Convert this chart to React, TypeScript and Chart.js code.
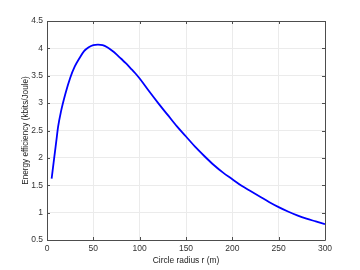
import React, { useEffect, useRef } from "react";
import { Chart, registerables } from "chart.js";

Chart.register(...registerables);

const radius = [5, 8, 10, 12, 15, 20, 25, 30, 35, 40, 45, 50, 55, 60, 65, 70, 75, 80, 85, 90, 95, 100, 110, 120, 130, 140, 150, 160, 170, 180, 190, 200, 210, 220, 230, 240, 250, 260, 270, 280, 290, 300];
const efficiency = [1.62, 2.03, 2.3, 2.57, 2.84, 3.18, 3.46, 3.67, 3.82, 3.95, 4.02, 4.06, 4.07, 4.06, 4.02, 3.96, 3.89, 3.81, 3.73, 3.64, 3.55, 3.45, 3.22, 3.0, 2.79, 2.58, 2.39, 2.2, 2.03, 1.87, 1.73, 1.61, 1.49, 1.39, 1.29, 1.19, 1.1, 1.02, 0.95, 0.89, 0.84, 0.79];
const xTicks = [0, 50, 100, 150, 200, 250, 300];
const yTicks = [0.5, 1, 1.5, 2, 2.5, 3, 3.5, 4, 4.5];

const FONT = "'Liberation Sans', Arial, Helvetica, sans-serif";

const boxPlugin = {
  id: "matlabBox",
  afterDatasetsDraw(chart: any) {
    const { ctx, chartArea: a, scales } = chart;
    ctx.save();
    ctx.strokeStyle = "#4d4d4d";
    ctx.lineWidth = 1;
    ctx.beginPath();
    const L = 3;
    xTicks.forEach((t) => {
      const px = Math.round(scales.x.getPixelForValue(t)) + 0.5;
      ctx.moveTo(px, a.bottom);
      ctx.lineTo(px, a.bottom - L);
      ctx.moveTo(px, a.top);
      ctx.lineTo(px, a.top + L);
    });
    yTicks.forEach((t) => {
      const py = Math.round(scales.y.getPixelForValue(t)) + 0.5;
      ctx.moveTo(a.left, py);
      ctx.lineTo(a.left + L, py);
      ctx.moveTo(a.right, py);
      ctx.lineTo(a.right - L, py);
    });
    ctx.stroke();
    ctx.beginPath();
    ctx.rect(Math.round(a.left) + 0.5, Math.round(a.top) + 0.5, Math.round(a.right - a.left), Math.round(a.bottom - a.top));
    ctx.stroke();
    ctx.restore();
  },
};

export default function App() {
  const ref = useRef<HTMLCanvasElement>(null);
  useEffect(() => {
    const chart = new Chart(ref.current!, {
      type: "line",
      data: {
        datasets: [
          {
            data: radius.map((r, i) => ({ x: r, y: efficiency[i] })),
            borderColor: "#0000ff",
            borderWidth: 1.8,
            pointRadius: 0,
            cubicInterpolationMode: "monotone",
            fill: false,
          },
        ],
      },
      options: {
        animation: false,
        responsive: false,
        maintainAspectRatio: false,
        layout: { padding: { top: 21, right: 35, left: 0, bottom: 0 } },
        plugins: { legend: { display: false }, tooltip: { enabled: false } },
        scales: {
          x: {
            type: "linear",
            min: 0,
            max: 300,
            afterBuildTicks: (s: any) => {
              s.ticks = xTicks.map((v) => ({ value: v }));
            },
            afterFit: (s: any) => {
              s.height = 30;
            },
            grid: { color: "#ebebeb", drawTicks: false },
            border: { display: false },
            ticks: { padding: 4, color: "#333", font: { family: FONT, size: 8.5 }, maxRotation: 0, callback: (v: any) => String(v) },
            title: {
              display: true,
              text: "Circle radius r (m)",
              color: "#222",
              font: { family: FONT, size: 8.4 },
              padding: { top: 0, bottom: 4.5 },
            },
          },
          y: {
            type: "linear",
            min: 0.5,
            max: 4.5,
            afterBuildTicks: (s: any) => {
              s.ticks = yTicks.map((v) => ({ value: v }));
            },
            afterFit: (s: any) => {
              s.width = 47;
            },
            grid: { color: "#ebebeb", drawTicks: false },
            border: { display: false },
            ticks: { padding: 4, color: "#333", font: { family: FONT, size: 8.5 }, callback: (v: any) => String(v) },
            title: {
              display: true,
              text: "Energy efficiency (kbits/Joule)",
              color: "#222",
              font: { family: FONT, size: 8.2 },
              padding: { top: 20.5, bottom: 0 },
            },
          },
        },
      },
      plugins: [boxPlugin],
    } as any);
    return () => chart.destroy();
  }, []);
  return (
    <div style={{ position: "absolute", left: 0, top: 0, width: 360, height: 270, background: "#fff" }}>
      <canvas ref={ref} width={360} height={270} style={{ width: 360, height: 270 }} />
    </div>
  );
}
